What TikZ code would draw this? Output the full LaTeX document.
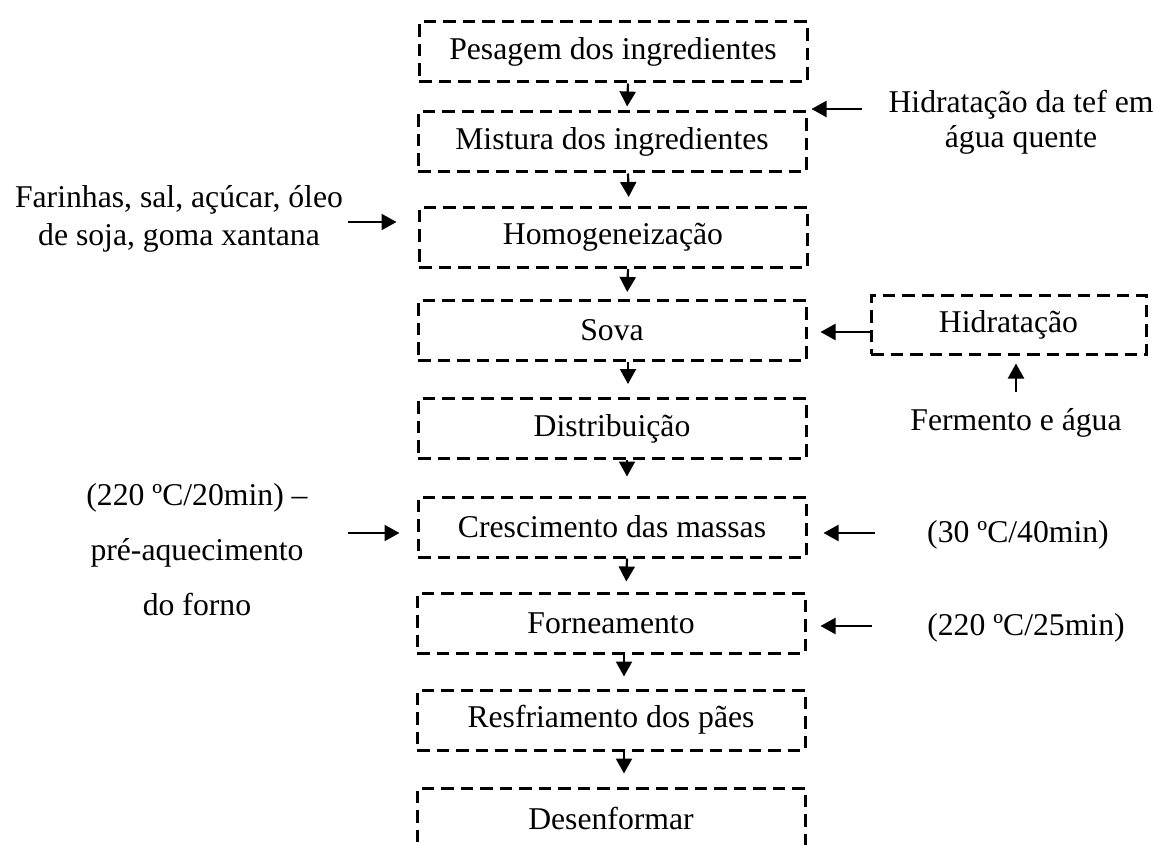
\documentclass[tikz,border=0pt]{standalone}
\usepackage{fontspec}
\setmainfont{Liberation Serif}
\usetikzlibrary{arrows.meta}
\begin{document}
\begin{tikzpicture}[x=1pt,y=-1pt,
  every node/.style={font=\fontsize{31.7}{36}\selectfont},
  stage/.style={draw, line width=3pt, dash pattern=on 12.5pt off 7pt,
    minimum width=388pt, minimum height=60pt, inner sep=0pt},
  arr/.style={line width=2.2pt, -{Triangle[width=16pt,length=15pt]}},
  lbl/.style={anchor=base, inner sep=0pt}]
\useasboundingbox (0,0) rectangle (1154,845);
\clip (0,0) rectangle (1154,845);

% main process column
\node[stage] (pes) at (613,52)    {Pesagem dos ingredientes};
\node[stage] (mis) at (612,142)   {Mistura dos ingredientes};
\node[stage] (hom) at (613,237.5) {Homogeneização};
\node[stage] (sov) at (612,330.5) {Sova};
\node[stage] (dis) at (612,428.5) {Distribuição};
\node[stage] (cre) at (612,527)   {Crescimento das massas};
\node[stage] (for) at (611,623)   {Forneamento};
\node[stage] (res) at (611,720)   {Resfriamento dos pães};
\node[stage] (des) at (611,818)   {Desenformar};

% side box
\node[stage, minimum width=275pt, minimum height=59pt] (hid) at (1008.5,324.5) {Hidratação};

% labels
\node[lbl] (tef1) at (1021,113) {Hidratação da tef em};
\node[lbl] (tef2) at (1021,148) {água quente};
\node[lbl] (far1) at (179,208) {Farinhas, sal, açúcar, óleo};
\node[lbl] (far2) at (179,245) {de soja, goma xantana};
\node[lbl] (pre1) at (197,505) {(220 ºC/20min) –};
\node[lbl] (pre2) at (197,560) {pré-aquecimento};
\node[lbl] (pre3) at (197,615) {do forno};
\node[lbl] (fer)  at (1016,430) {Fermento e água};
\node[lbl] (t30)  at (1018,542) {(30 ºC/40min)};
\node[lbl] (t220) at (1026,635) {(220 ºC/25min)};

% flow between stages
\draw[arr, shorten >=4pt]  ([xshift=15pt]pes.south) -- ([xshift=15pt]mis.north);
\draw[arr, shorten >=9pt]  ([xshift=16pt]mis.south) -- ([xshift=16pt]hom.north);
\draw[arr, shorten >=7pt]  ([xshift=15pt]hom.south) -- ([xshift=15pt]sov.north);
\draw[arr, shorten >=13pt] ([xshift=16pt]sov.south) -- ([xshift=16pt]dis.north);
\draw[arr, shorten >=19pt] ([xshift=15pt]dis.south) -- ([xshift=15pt]cre.north);
\draw[arr, shorten >=10pt] ([xshift=15pt]cre.south) -- ([xshift=15pt]for.north);
\draw[arr, shorten >=12pt] ([xshift=13pt]for.south) -- ([xshift=13pt]res.north);
\draw[arr, shorten >=13pt] ([xshift=13pt]res.south) -- ([xshift=13pt]des.north);

% inputs
\coordinate (tefA) at (862,109);
\draw[arr, shorten >=4pt] (tefA) -- (mis.east |- tefA);
\coordinate (farA) at (348,222);
\draw[arr, shorten >=21pt] (farA) -- (hom.west |- farA);
\coordinate (hidA) at (871,332);
\draw[arr, shorten >=13pt] (hidA) -- (sov.east |- hidA);
\coordinate (ferA) at (1016,392);
\draw[arr, shorten >=8pt] (ferA) -- (hid.south -| ferA);
\coordinate (preA) at (348,533);
\draw[arr, shorten >=17pt] (preA) -- (cre.west |- preA);
\coordinate (t30A) at (875,533);
\draw[arr, shorten >=16pt] (t30A) -- (cre.east |- t30A);
\coordinate (t220A) at (872,626);
\draw[arr, shorten >=14pt] (t220A) -- (for.east |- t220A);
\end{tikzpicture}
\end{document}
